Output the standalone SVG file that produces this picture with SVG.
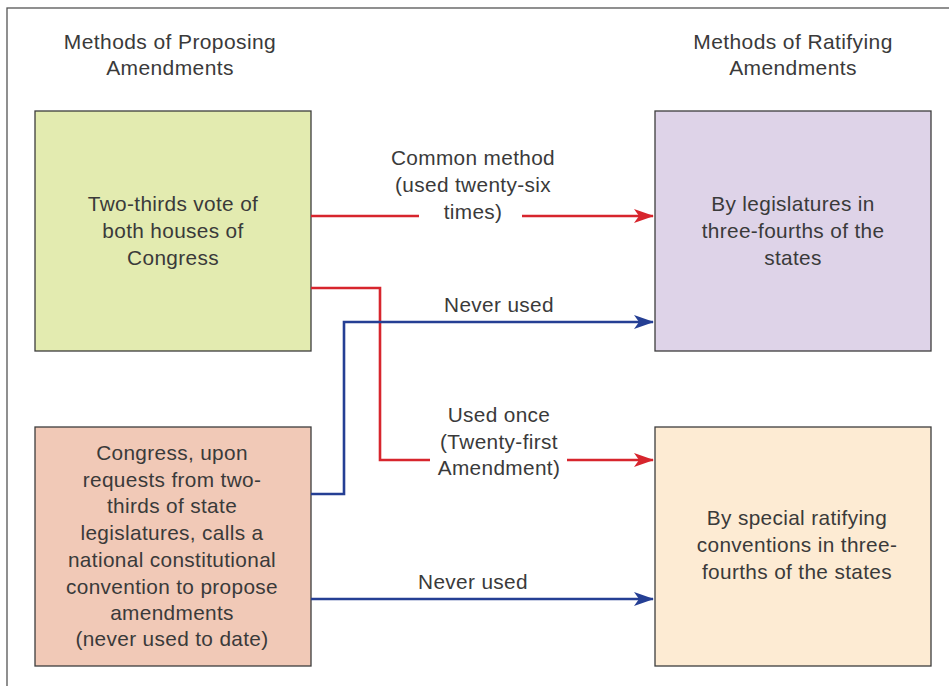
<svg xmlns="http://www.w3.org/2000/svg" width="949" height="686" viewBox="0 0 949 686">
<style>
text{font-family:"Liberation Sans",Arial,sans-serif;fill:#3a3a3a;text-anchor:middle;font-size:20.8px;letter-spacing:0.35px}
.t{font-size:21px;letter-spacing:0.4px}
.box{stroke:#3d3d3d;stroke-width:1.3}
.red{stroke:#d7252d;stroke-width:2.6;fill:none}
.blue{stroke:#253f94;stroke-width:2.6;fill:none}
</style>
<defs>
<marker id="ar" viewBox="0 0 20 14" refX="19" refY="7" markerWidth="20" markerHeight="14" markerUnits="userSpaceOnUse" orient="auto"><path d="M0,0 L20,7 L0,14 L5,7 Z" fill="#d7252d"/></marker>
<marker id="ab" viewBox="0 0 20 14" refX="19" refY="7" markerWidth="20" markerHeight="14" markerUnits="userSpaceOnUse" orient="auto"><path d="M0,0 L20,7 L0,14 L5,7 Z" fill="#253f94"/></marker>
</defs>
<rect width="949" height="686" fill="#fff"/>
<rect x="7" y="8" width="960" height="700" fill="none" stroke="#555" stroke-width="1.3"/>
<g id="titles">
<text class="t" x="170" y="49">Methods of Proposing</text>
<text class="t" x="170" y="75">Amendments</text>
<text class="t" x="793" y="49">Methods of Ratifying</text>
<text class="t" x="793" y="75">Amendments</text>
</g>
<g id="congress">
<rect class="box" x="35" y="111" width="276" height="240" fill="#e3ebb0"/>
<text x="173" y="211">Two-thirds vote of</text>
<text x="173" y="238">both houses of</text>
<text x="173" y="265">Congress</text>
</g>
<g id="convention">
<rect class="box" x="35" y="427" width="276" height="239" fill="#f1c9b7"/>
<text x="172" y="460">Congress, upon</text>
<text x="172" y="487">requests from two-</text>
<text x="172" y="513">thirds of state</text>
<text x="172" y="540">legislatures, calls a</text>
<text x="172" y="567">national constitutional</text>
<text x="172" y="594">convention to propose</text>
<text x="172" y="620">amendments</text>
<text x="172" y="646">(never used to date)</text>
</g>
<g id="legislatures">
<rect class="box" x="655" y="111" width="276" height="240" fill="#ded3e8"/>
<text x="793" y="211">By legislatures in</text>
<text x="793" y="238">three-fourths of the</text>
<text x="793" y="265">states</text>
</g>
<g id="conventions">
<rect class="box" x="655" y="427" width="276" height="239" fill="#fdebd3"/>
<text x="797" y="525">By special ratifying</text>
<text x="797" y="552">conventions in three-</text>
<text x="797" y="579">fourths of the states</text>
</g>
<g id="connectors">
<path class="red" d="M311,216 H419"/>
<path class="red" d="M522,216 H653" marker-end="url(#ar)"/>
<path class="red" d="M311,288 H380 V460 H430"/>
<path class="red" d="M567,460 H653" marker-end="url(#ar)"/>
<path class="blue" d="M311,494 H344 V322 H653" marker-end="url(#ab)"/>
<path class="blue" d="M311,599 H653" marker-end="url(#ab)"/>
</g>
<g id="labels">
<text x="473" y="165">Common method</text>
<text x="473" y="192">(used twenty-six</text>
<text x="473" y="219">times)</text>
<text x="499" y="312">Never used</text>
<text x="499" y="422">Used once</text>
<text x="499" y="449">(Twenty-first</text>
<text x="499" y="475">Amendment)</text>
<text x="473" y="589">Never used</text>
</g>
</svg>
